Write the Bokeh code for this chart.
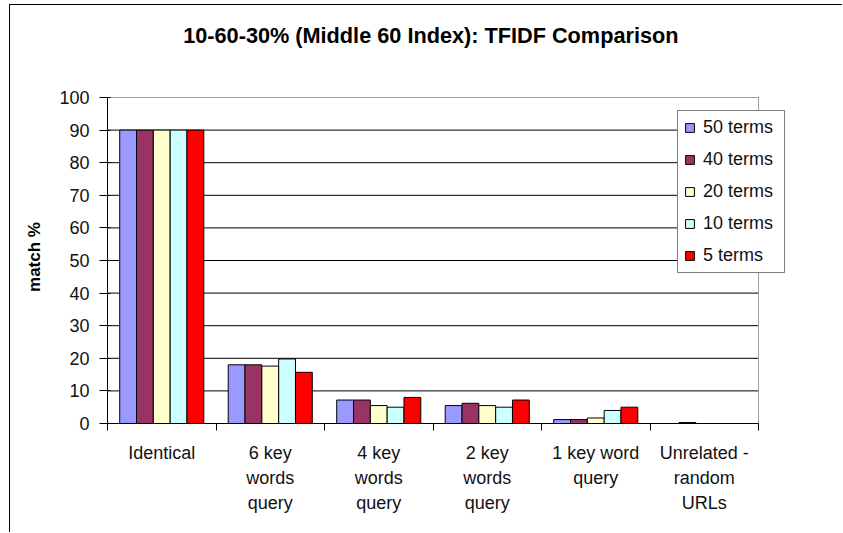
from bokeh.plotting import figure
from bokeh.models import ColumnDataSource, FixedTicker, Legend, LegendItem, Label
from bokeh.transform import dodge
from bokeh.embed import file_html
from bokeh.resources import INLINE

# Categories (query type) and match percentages per TFIDF term count
categories = ["Identical", "6 key\nwords\nquery", "4 key\nwords\nquery",
              "2 key\nwords\nquery", "1 key word\nquery", "Unrelated -\nrandom\nURLs"]
terms_50 = [90, 18.0, 7.2, 5.5, 1.2, 0.0]
terms_40 = [90, 18.0, 7.2, 6.2, 1.2, 0.3]
terms_20 = [90, 17.6, 5.5, 5.5, 1.7, 0.0]
terms_10 = [90, 19.8, 5.0, 5.0, 4.0, 0.0]
terms_5 = [90, 15.7, 8.0, 7.2, 5.0, 0.0]
series_names = ["50 terms", "40 terms", "20 terms", "10 terms", "5 terms"]
series_colors = ["#9999FF", "#993366", "#FFFFCC", "#CCFFFF", "#FF0000"]
y_ticks = list(range(0, 101, 10))
title_text = "10-60-30% (Middle 60 Index): TFIDF Comparison"
y_label = "match %"

FONT = "Liberation Sans"
n_cat = len(categories)
y_max = 100
centers = [i + 0.5 for i in range(n_cat)]
source = ColumnDataSource(dict(xc=centers, s50=terms_50, s40=terms_40,
                               s20=terms_20, s10=terms_10, s5=terms_5))
cols = ["s50", "s40", "s20", "s10", "s5"]

# the frame reaches past the plot area (right and top) so the legend can
# overhang it and the title can sit above it
x_end = n_cat * 693 / 651
y_end = y_max * 418 / 326

p = figure(width=833, height=528, x_range=(0, x_end), y_range=(0, y_end),
           output_backend="svg", toolbar_location=None,
           min_border_left=97, min_border_right=43, min_border_top=0, min_border_bottom=110,
           background_fill_color="white", border_fill_color="white")
p.styles = {"margin-left": "9px", "margin-top": "4px",
            "border-left": "1px solid black", "border-top": "1px solid black"}
p.outline_line_color = None

# horizontal gridlines and the grey plot-area border
p.xgrid.visible = False
p.ygrid.visible = False
p.segment(x0=[0] * len(y_ticks), x1=[n_cat] * len(y_ticks), y0=y_ticks, y1=y_ticks,
          line_color="black", line_width=1)
p.segment(x0=[0, n_cat], x1=[n_cat, n_cat], y0=[y_max, 0], y1=[y_max, y_max],
          line_color="#a0a0a0", line_width=1)

bar_w = 0.155
renderers = []
for j, (col, color) in enumerate(zip(cols, series_colors)):
    r = p.vbar(x=dodge("xc", (j - 2) * bar_w, range=p.x_range), top=col, width=bar_w,
               source=source, fill_color=color, line_color="black", line_width=1)
    renderers.append(r)

# y axis; the label is padded with no-break spaces so it centres on the 0-100 span
p.yaxis.bounds = (0, y_max)
p.yaxis.ticker = FixedTicker(ticks=y_ticks)
p.yaxis.axis_line_color = "black"
p.yaxis.major_tick_out = 8
p.yaxis.major_tick_in = 3
p.yaxis.minor_tick_line_color = None
p.yaxis.major_label_text_font = FONT
p.yaxis.major_label_text_font_size = "18px"
p.yaxis.major_label_text_color = "#111111"
p.yaxis.major_label_standoff = 10
p.yaxis.axis_label = y_label + "\u00a0" * 18
p.yaxis.axis_label_text_font = FONT
p.yaxis.axis_label_text_font_style = "bold"
p.yaxis.axis_label_text_font_size = "17px"
p.yaxis.axis_label_text_color = "black"
p.yaxis.axis_label_standoff = 12

# x axis: category boundaries as ticks, names centred between them
p.xaxis.bounds = (0, n_cat)
p.xaxis.ticker = FixedTicker(ticks=centers, minor_ticks=list(range(n_cat + 1)))
p.xaxis.major_label_overrides = {c: name for c, name in zip(centers, categories)}
p.xaxis.axis_line_color = "black"
p.xaxis.major_tick_out = 0
p.xaxis.major_tick_in = 0
p.xaxis.minor_tick_out = 7
p.xaxis.minor_tick_in = 0
p.xaxis.minor_tick_line_color = "black"
p.xaxis.major_label_text_font = FONT
p.xaxis.major_label_text_font_size = "18px"
p.xaxis.major_label_text_color = "#111111"
p.xaxis.major_label_text_line_height = 1.25
p.xaxis.major_label_standoff = 12

# title, centred over the plot area
p.add_layout(Label(x=2.98, y=119, text=title_text, text_align="center",
                   text_baseline="middle", text_font=FONT, text_font_style="bold",
                   text_font_size="21.7px", text_color="black"))

legend = Legend(items=[LegendItem(label=n, renderers=[r]) for n, r in zip(series_names, renderers)],
                location=(570, 150), orientation="vertical",
                border_line_color="black", border_line_width=1,
                background_fill_color="white", background_fill_alpha=1,
                label_text_font=FONT, label_text_font_size="18px", label_text_color="#111111",
                glyph_width=11, glyph_height=11, label_standoff=8, label_height=20,
                label_width=75, spacing=11, padding=6, margin=0)
p.add_layout(legend, "center")

open("out.html", "w").write(file_html(p, INLINE))
